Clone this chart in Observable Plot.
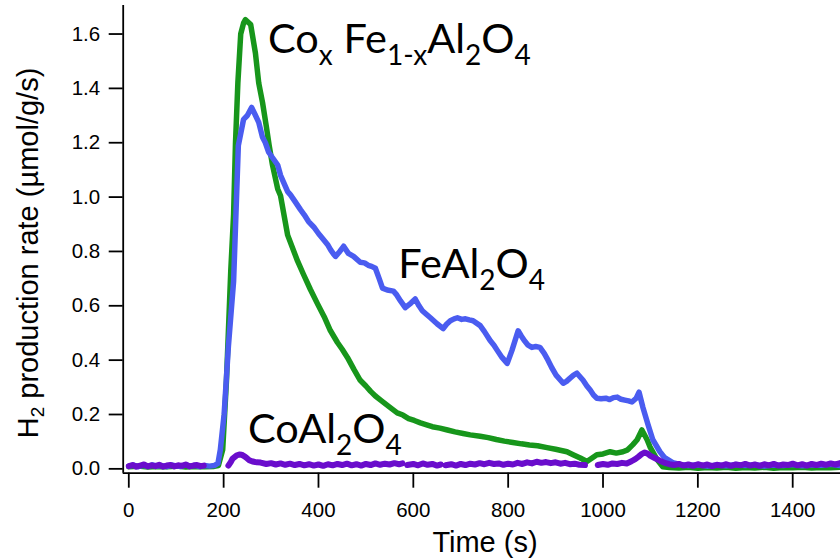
<!DOCTYPE html>
<html>
<head>
<meta charset="utf-8">
<script src="https://cdn.jsdelivr.net/npm/d3@7"></script>
<script src="https://cdn.jsdelivr.net/npm/@observablehq/plot@0.6"></script>
<style>
  html, body { margin: 0; padding: 0; background: #fff; }
  #chart { width: 840px; height: 559px; }
  #chart svg [aria-label*="axis"] line,
  #chart svg [aria-label*="axis"] path { stroke-width: 1.8px; }
</style>
</head>
<body>
<div id="chart"></div>
<script>
// ---------------- DATA ----------------
const xTicks = [0, 200, 400, 600, 800, 1000, 1200, 1400];
const yTicks = [0, 0.2, 0.4, 0.6, 0.8, 1.0, 1.2, 1.4, 1.6];
const xTitle = "Time (s)";
const yTitleParts = [["H", false], ["2", true], [" production rate (\u00b5mol/g/s)", false]];

const seriesNames = ["FeAl2O4", "CoxFe1-xAl2O4", "CoAl2O4"];

// FeAl2O4 (blue)
const blueT = [0, 10, 20, 30, 40, 50, 60, 70, 80, 90, 100, 110, 120, 130, 140, 150, 160, 170, 180, 188, 193, 201, 210, 221, 231, 242, 250, 259, 266, 274, 282, 288, 295, 305, 314, 320, 326, 335, 341, 350, 362, 370, 379, 390, 400, 410, 419, 426, 432, 436, 445, 453, 463, 474, 488, 497, 505, 512, 520, 528, 535, 545, 558, 565, 573, 583, 595, 604, 612, 619, 628, 636, 650, 663, 670, 678, 686, 693, 702, 710, 718, 726, 741, 750, 762, 770, 777, 787, 798, 808, 821, 828, 834, 842, 850, 858, 867, 876, 884, 892, 901, 916, 923, 930, 938, 945, 958, 966, 973, 980, 987, 996, 1006, 1014, 1022, 1030, 1038, 1046, 1054, 1061, 1070, 1076, 1084, 1095, 1105, 1120, 1130, 1147, 1162, 1180, 1200, 1220, 1240, 1260, 1280, 1300, 1320, 1340, 1360, 1380, 1400, 1420, 1440, 1460, 1480, 1500];
const blueV = [0.010, 0.014, 0.008, 0.013, 0.009, 0.015, 0.010, 0.012, 0.008, 0.014, 0.011, 0.009, 0.015, 0.010, 0.013, 0.008, 0.012, 0.010, 0.012, 0.020, 0.070, 0.200, 0.450, 0.690, 1.190, 1.286, 1.300, 1.330, 1.305, 1.275, 1.220, 1.200, 1.165, 1.140, 1.118, 1.080, 1.056, 1.020, 1.008, 0.985, 0.954, 0.935, 0.910, 0.890, 0.866, 0.845, 0.826, 0.805, 0.790, 0.782, 0.800, 0.819, 0.793, 0.782, 0.760, 0.758, 0.749, 0.745, 0.738, 0.700, 0.665, 0.658, 0.654, 0.640, 0.618, 0.593, 0.610, 0.625, 0.600, 0.582, 0.568, 0.556, 0.534, 0.516, 0.532, 0.545, 0.552, 0.556, 0.550, 0.552, 0.548, 0.545, 0.527, 0.505, 0.472, 0.455, 0.436, 0.410, 0.388, 0.436, 0.508, 0.488, 0.472, 0.455, 0.447, 0.450, 0.447, 0.425, 0.400, 0.372, 0.345, 0.315, 0.322, 0.333, 0.345, 0.352, 0.326, 0.305, 0.290, 0.272, 0.260, 0.258, 0.260, 0.255, 0.262, 0.264, 0.256, 0.253, 0.250, 0.246, 0.260, 0.282, 0.227, 0.162, 0.107, 0.063, 0.041, 0.023, 0.016, 0.012, 0.015, 0.010, 0.014, 0.011, 0.016, 0.012, 0.015, 0.010, 0.014, 0.012, 0.016, 0.011, 0.015, 0.013, 0.017, 0.012];

// CoxFe1-xAl2O4 (green)
const greenT = [0, 20, 40, 60, 80, 100, 120, 140, 160, 180, 189, 198, 206, 215, 221, 225, 230, 236, 242, 246, 257, 267, 274, 282, 290, 296, 303, 314, 320, 335, 356, 368, 383, 398, 412, 425, 440, 450, 461, 475, 488, 500, 510, 520, 531, 548, 566, 578, 590, 602, 615, 628, 640, 656, 672, 688, 705, 720, 741, 758, 775, 792, 810, 828, 845, 862, 882, 900, 924, 937, 952, 966, 977, 987, 1000, 1015, 1028, 1042, 1052, 1063, 1072, 1082, 1093, 1099, 1114, 1126, 1140, 1160, 1180, 1200, 1220, 1240, 1260, 1280, 1300, 1320, 1340, 1360, 1380, 1400, 1420, 1440, 1460, 1480, 1500];
const greenV = [0.008, 0.010, 0.007, 0.009, 0.008, 0.010, 0.007, 0.009, 0.008, 0.009, 0.012, 0.070, 0.326, 0.728, 0.936, 1.200, 1.420, 1.600, 1.640, 1.653, 1.635, 1.530, 1.420, 1.348, 1.260, 1.190, 1.118, 1.030, 1.005, 0.860, 0.764, 0.717, 0.660, 0.607, 0.560, 0.509, 0.465, 0.440, 0.410, 0.365, 0.326, 0.305, 0.285, 0.268, 0.253, 0.230, 0.206, 0.198, 0.185, 0.178, 0.169, 0.162, 0.155, 0.150, 0.143, 0.136, 0.130, 0.125, 0.120, 0.115, 0.108, 0.102, 0.097, 0.092, 0.088, 0.085, 0.078, 0.072, 0.063, 0.052, 0.040, 0.027, 0.040, 0.052, 0.055, 0.063, 0.058, 0.063, 0.070, 0.089, 0.107, 0.143, 0.107, 0.081, 0.034, 0.008, 0.005, 0.003, 0.006, 0.002, 0.005, 0.003, 0.006, 0.002, 0.005, 0.003, 0.006, 0.002, 0.005, 0.004, 0.006, 0.003, 0.005, 0.004, 0.006];

// CoAl2O4 (purple) — null marks a gap in the trace
const purpleT = [0, 8, 16, 24, 32, 40, 48, 56, 64, 72, 80, 88, 96, 104, 112, 120, 128, 136, 144, 152, 158, 184, 210, 215, 219, 227, 233, 238, 243, 248, 254, 261, 270, 278, 290, 300, 310, 320, 330, 340, 350, 360, 370, 380, 390, 400, 410, 420, 430, 440, 450, 460, 470, 480, 490, 500, 510, 520, 530, 540, 550, 560, 570, 577, 582, 587, 600, 610, 620, 630, 640, 650, 658, 663, 668, 680, 690, 700, 710, 720, 730, 740, 750, 760, 770, 780, 790, 800, 810, 820, 830, 840, 850, 860, 870, 880, 890, 900, 910, 920, 930, 940, 950, 962, 975, 989, 1000, 1010, 1020, 1030, 1040, 1050, 1060, 1068, 1075, 1082, 1088, 1094, 1100, 1109, 1120, 1130, 1140, 1150, 1160, 1170, 1180, 1190, 1200, 1210, 1220, 1230, 1240, 1250, 1260, 1270, 1280, 1290, 1300, 1310, 1320, 1330, 1340, 1350, 1360, 1370, 1380, 1390, 1400, 1410, 1420, 1430, 1440, 1450, 1460, 1470, 1480, 1490, 1500];
const purpleV = [0.010, 0.014, 0.008, 0.012, 0.016, 0.009, 0.013, 0.010, 0.015, 0.008, 0.012, 0.014, 0.009, 0.013, 0.011, 0.016, 0.009, 0.012, 0.014, 0.010, 0.012, null, 0.012, 0.025, 0.038, 0.049, 0.053, 0.052, 0.047, 0.041, 0.032, 0.027, 0.024, 0.023, 0.018, 0.021, 0.016, 0.020, 0.015, 0.019, 0.014, 0.018, 0.013, 0.017, 0.012, 0.016, 0.011, 0.017, 0.013, 0.018, 0.014, 0.019, 0.013, 0.017, 0.012, 0.018, 0.014, 0.020, 0.015, 0.019, 0.016, 0.021, 0.017, 0.020, null, 0.014, 0.018, 0.013, 0.020, 0.015, 0.018, 0.012, 0.016, null, 0.013, 0.017, 0.012, 0.018, 0.014, 0.019, 0.016, 0.021, 0.017, 0.022, 0.018, 0.020, 0.015, 0.019, 0.016, 0.022, 0.018, 0.024, 0.020, 0.026, 0.022, 0.025, 0.021, 0.024, 0.019, 0.022, 0.017, 0.019, 0.015, 0.014, null, 0.014, 0.018, 0.015, 0.020, 0.018, 0.022, 0.020, 0.028, 0.036, 0.045, 0.055, 0.060, 0.056, 0.048, 0.040, 0.030, 0.022, 0.017, 0.014, 0.018, 0.012, 0.016, 0.011, 0.017, 0.012, 0.016, 0.010, 0.015, 0.012, 0.017, 0.011, 0.016, 0.013, 0.018, 0.012, 0.016, 0.011, 0.017, 0.013, 0.018, 0.012, 0.016, 0.014, 0.019, 0.013, 0.017, 0.012, 0.018, 0.014, 0.019, 0.015, 0.020, 0.016, 0.021, 0.017];

const annotCoFe = [["Co", false], ["x", true], [" Fe", false], ["1-x", true], ["Al", false], ["2", true], ["O", false], ["4", true]];
const annotFe = [["FeAl", false], ["2", true], ["O", false], ["4", true]];
const annotCo = [["CoAl", false], ["2", true], ["O", false], ["4", true]];

// ---------------- BUILD ----------------
const rows = (ts, vs, name) => ts.map((t, i) => ({ t, v: vs[i], series: name }));
const blueRows = rows(blueT, blueV, seriesNames[0]);
const greenRows = rows(greenT, greenV, seriesNames[1]);
const purpleRows = rows(purpleT, purpleV, seriesNames[2]);

const xMin = -11.8, xMax = 1500.8, yMin = -0.016, yMax = 1.705;

function richText(g, x, y, parts, size, subSize, shift, family, anchor) {
  const t = g.append("text")
    .attr("x", x).attr("y", y)
    .attr("text-anchor", anchor)
    .style("font-family", family)
    .style("font-size", size + "px")
    .attr("fill", "#000");
  let cur = 0;
  for (const [s, sub] of parts) {
    const target = sub ? shift : 0;
    t.append("tspan")
      .style("font-size", (sub ? subSize : size) + "px")
      .attr("dy", target - cur)
      .text(s);
    cur = target;
  }
  return t;
}

const annotations = (index, scales, values, dims) => {
  const g = d3.create("svg:g");
  const fam = "Lato, 'Open Sans', sans-serif";
  richText(g, scales.x(294.6), scales.y(1.528), annotCoFe, 41.5, 28, 12, fam, "start");
  richText(g, scales.x(569.3), scales.y(0.700), annotFe, 41.5, 28, 12, fam, "start");
  richText(g, scales.x(252.4), scales.y(0.092), annotCo, 41.5, 28, 12, fam, "start");
  // axis titles
  const axFam = "'Liberation Sans', Arial, sans-serif";
  g.append("text")
    .attr("x", 485).attr("y", 551.7)
    .attr("text-anchor", "middle")
    .style("font-family", axFam).style("font-size", "29px").attr("fill", "#000")
    .text(xTitle);
  richText(g, 0, 0, yTitleParts, 29, 19, 6, axFam, "middle")
    .attr("transform", "translate(38,253) rotate(-90)");
  return g.node();
};

const chart = Plot.plot({
  width: 840,
  height: 559,
  marginLeft: 122.7,
  marginRight: 0,
  marginTop: 5,
  marginBottom: 86.3,
  style: { fontFamily: "'Liberation Sans', Arial, sans-serif", fontSize: "20.5px", color: "#000", background: "#fff" },
  x: { domain: [xMin, xMax], ticks: xTicks, tickSize: 15, tickPadding: 14, tickFormat: d => String(d), label: null },
  y: { domain: [yMin, yMax], ticks: yTicks, tickSize: 14, tickPadding: 9, tickFormat: d => d.toFixed(1), label: null },
  marks: [
    Plot.line(greenRows, { x: "t", y: "v", stroke: "#17961b", strokeWidth: 5.5, strokeLinejoin: "round", strokeLinecap: "round" }),
    Plot.line(blueRows, { x: "t", y: "v", stroke: "#4a5cf0", strokeWidth: 5.5, strokeLinejoin: "round", strokeLinecap: "round" }),
    Plot.line(purpleRows, { x: "t", y: "v", stroke: "#6a0dcc", strokeWidth: 6, strokeLinejoin: "round", strokeLinecap: "round" }),
    Plot.ruleX([xMin], { stroke: "#000", strokeWidth: 1.8 }),
    Plot.ruleY([yMin], { stroke: "#000", strokeWidth: 1.8 }),
    annotations
  ]
});
document.getElementById("chart").appendChild(chart);
</script>
</body>
</html>
